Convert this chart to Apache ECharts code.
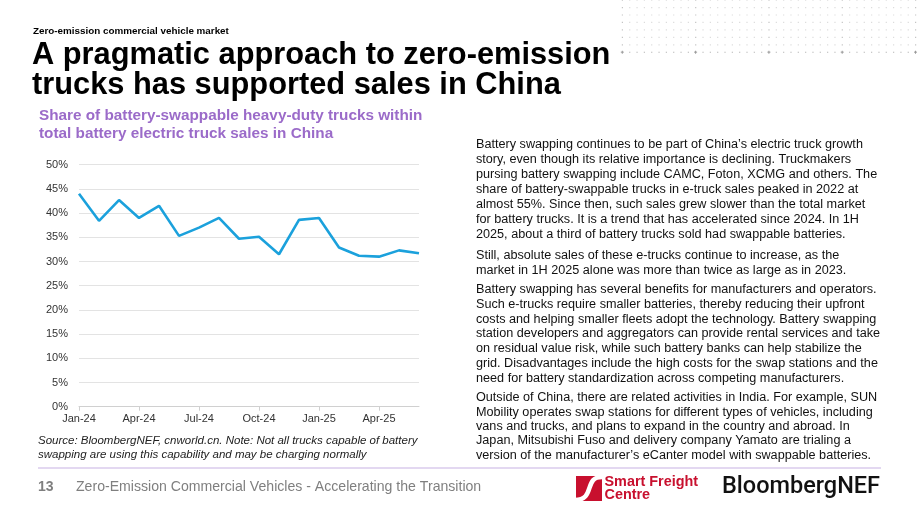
<!DOCTYPE html>
<html>
<head>
<meta charset="utf-8">
<script src="https://cdn.jsdelivr.net/npm/echarts@6/dist/echarts.min.js"></script>
<style>
  html, body { margin: 0; padding: 0; background: #fff; }
  #main { width: 920px; height: 518px; }
</style>
</head>
<body>
<div id="main"></div>
<script>
// monthly categories, Jan-24 .. Jun-25
var months = ['Jan-24', 'Feb-24', 'Mar-24', 'Apr-24', 'May-24', 'Jun-24', 'Jul-24', 'Aug-24', 'Sep-24',
  'Oct-24', 'Nov-24', 'Dec-24', 'Jan-25', 'Feb-25', 'Mar-25', 'Apr-25', 'May-25', 'Jun-25'];
// share of battery-swappable trucks, %
var swapShare = [44.0, 38.4, 42.7, 39.0, 41.5, 35.3, 37.0, 39.0, 34.7,
  35.1, 31.5, 38.6, 39.0, 32.9, 31.2, 31.0, 32.3, 31.7];

var para1 = 'Battery swapping continues to be part of China\u2019s electric truck growth\n' +
  'story, even though its relative importance is declining. Truckmakers\n' +
  'pursing battery swapping include CAMC, Foton, XCMG and others. The\n' +
  'share of battery-swappable trucks in e-truck sales peaked in 2022 at\n' +
  'almost 55%. Since then, such sales grew slower than the total market\n' +
  'for battery trucks. It is a trend that has accelerated since 2024. In 1H\n' +
  '2025, about a third of battery trucks sold had swappable batteries.';
var para2 = 'Still, absolute sales of these e-trucks continue to increase, as the\n' +
  'market in 1H 2025 alone was more than twice as large as in 2023.';
var para3 = 'Battery swapping has several benefits for manufacturers and operators.\n' +
  'Such e-trucks require smaller batteries, thereby reducing their upfront\n' +
  'costs and helping smaller fleets adopt the technology. Battery swapping\n' +
  'station developers and aggregators can provide rental services and take\n' +
  'on residual value risk, while such battery banks can help stabilize the\n' +
  'grid. Disadvantages include the high costs for the swap stations and the\n' +
  'need for battery standardization across competing manufacturers.';
var para4 = 'Outside of China, there are related activities in India. For example, SUN\n' +
  'Mobility operates swap stations for different types of vehicles, including\n' +
  'vans and trucks, and plans to expand in the country and abroad. In\n' +
  'Japan, Mitsubishi Fuso and delivery company Yamato are trialing a\n' +
  'version of the manufacturer\u2019s eCanter model with swappable batteries.';

var FONT = '"Liberation Sans", Arial, sans-serif';
var chart = echarts.init(document.getElementById('main'), null, { renderer: 'canvas' });

// decorative dot grid, top right
var dots = [];
for (var c = 0; c < 41; c++) {
  for (var r = 0; r < 8; r++) {
    var dx = 622.3 + c * 7.33;
    var dy = r * 7.45;
    var major = c % 10 === 0;
    var last = r === 7;
    if (major && last) {
      dots.push({ type: 'rect', shape: { x: dx - 1.5, y: dy - 0.5, width: 3, height: 1 }, style: { fill: '#9a9a9a' }, silent: true });
      dots.push({ type: 'rect', shape: { x: dx - 0.5, y: dy - 1.5, width: 1, height: 3 }, style: { fill: '#9a9a9a' }, silent: true });
    } else {
      dots.push({ type: 'rect', shape: { x: dx - 0.5, y: dy - 0.5, width: 1.2, height: 1.2 },
        style: { fill: last ? '#b5b5b5' : (major ? '#c4c4c4' : '#dcdcdc') }, silent: true });
    }
  }
}

function txt(x, y, text, font, fill) {
  return { type: 'text', silent: true, style: { text: text, x: x, y: y, font: font, fill: fill, textVerticalAlign: 'middle' } };
}
function para(y, text, lh) {
  return { type: 'text', silent: true, style: { text: text, x: 476, y: y, font: '12.65px ' + FONT, fill: '#111', lineHeight: lh, textVerticalAlign: 'top' } };
}

var graphics = dots.concat([
  txt(33, 31, 'Zero-emission commercial vehicle market', 'bold 9.85px ' + FONT, '#000'),
  txt(32, 56, 'A pragmatic approach to zero-emission', 'bold 30.8px ' + FONT, '#000'),
  txt(32, 86, 'trucks has supported sales in China', 'bold 30.8px ' + FONT, '#000'),
  txt(39, 116, 'Share of battery-swappable heavy-duty trucks within', 'bold 15.3px ' + FONT, '#9b6bc9'),
  txt(39, 134, 'total battery electric truck sales in China', 'bold 15.3px ' + FONT, '#9b6bc9'),
  para(137.5, para1, 15),
  para(248.5, para2, 15),
  para(282.5, para3, 14.7),
  para(390.5, para4, 14.4),
  txt(38, 441, 'Source: BloombergNEF, cnworld.cn. Note: Not all trucks capable of battery', 'italic 11.5px ' + FONT, '#222'),
  txt(38, 455, 'swapping are using this capability and may be charging normally', 'italic 11.5px ' + FONT, '#222'),
  { type: 'rect', silent: true, shape: { x: 38, y: 467.5, width: 843, height: 1 }, style: { fill: '#c7b2e3' } },
  txt(38, 487, '13', 'bold 14px ' + FONT, '#7f7f7f'),
  txt(76, 487, 'Zero-Emission Commercial Vehicles - Accelerating the Transition', '14.1px ' + FONT, '#7f7f7f'),
  // Smart Freight Centre mark
  { type: 'rect', silent: true, shape: { x: 576, y: 476, width: 26, height: 25 }, style: { fill: '#c8102e' } },
  { type: 'bezierCurve', silent: true,
    shape: { x1: 603, y1: 477, cpx1: 583, cpy1: 476, cpx2: 596, cpy2: 500, x2: 575, y2: 500 },
    style: { fill: null, stroke: '#fff', lineWidth: 4.5 } },
  txt(604.5, 482.5, 'Smart Freight', 'bold 14.4px ' + FONT, '#c8102e'),
  txt(604.5, 495.5, 'Centre', 'bold 14.4px ' + FONT, '#c8102e'),
  txt(722, 487, 'BloombergNEF', '500 23.5px Roboto, ' + FONT, '#111')
]);

var option = {
  backgroundColor: '#ffffff',
  animation: false,
  grid: { left: 79, right: 501, top: 164.7, bottom: 111.3 },
  xAxis: {
    type: 'category',
    boundaryGap: false,
    data: months,
    axisLine: { lineStyle: { color: '#d0d0d0', width: 1 } },
    axisTick: { show: true, interval: 2, length: 4, lineStyle: { color: '#d0d0d0' } },
    axisLabel: { interval: 2, color: '#333', fontSize: 11, fontFamily: FONT, margin: 7 },
    splitLine: { show: false }
  },
  yAxis: {
    type: 'value',
    min: 0,
    max: 50,
    interval: 5,
    axisLine: { show: false },
    axisTick: { show: false },
    axisLabel: { formatter: '{value}%', color: '#333', fontSize: 11, fontFamily: FONT, margin: 11 },
    splitLine: { lineStyle: { color: '#e3e3e3', width: 1 } }
  },
  series: [{
    name: 'Share',
    type: 'line',
    data: swapShare,
    symbol: 'none',
    lineStyle: { color: '#1ba1dc', width: 2.6 }
  }],
  graphic: graphics
};
chart.setOption(option);
</script>
</body>
</html>
